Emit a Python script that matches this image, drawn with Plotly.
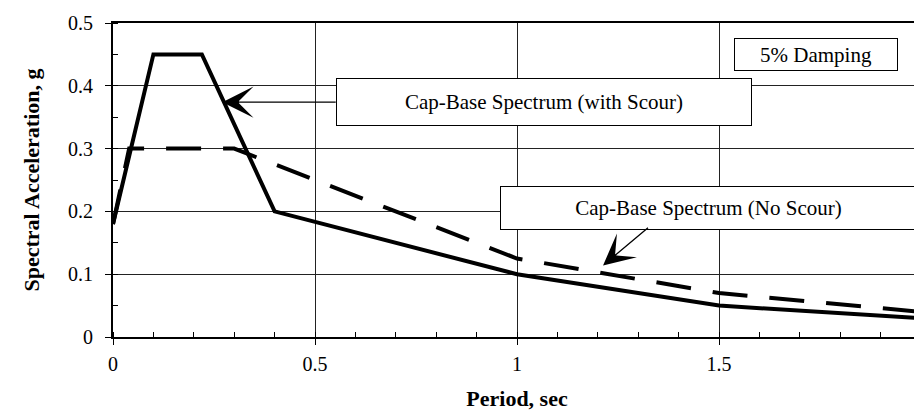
import plotly.graph_objects as go

# response spectra, 5% damping
period_scour = [0, 0.1, 0.22, 0.4, 1.0, 1.5, 2.0]
sa_scour = [0.18, 0.45, 0.45, 0.2, 0.1, 0.05, 0.03]

period_no_scour = [0, 0.04, 0.3, 1.0, 1.5, 2.0]
sa_no_scour = [0.18, 0.3, 0.3, 0.125, 0.07, 0.04]

font_family = "Liberation Serif, Times New Roman, serif"

fig = go.Figure()
fig.add_trace(go.Scatter(
    x=period_scour, y=sa_scour, mode="lines",
    line=dict(color="black", width=4),
    name="Cap-Base Spectrum (with Scour)"
))
fig.add_trace(go.Scatter(
    x=period_no_scour, y=sa_no_scour, mode="lines",
    line=dict(color="black", width=4, dash="35px,22px"),
    name="Cap-Base Spectrum (No Scour)"
))

# Here we build the boxed labels and the arrows separately
box_style = dict(showarrow=False, bgcolor="white", bordercolor="black",
                 borderwidth=1, borderpad=0, font=dict(family=font_family, size=21, color="black"),
                 xref="x", yref="y")
fig.add_annotation(text="5% Damping", x=1.741, y=0.4497, width=162, height=31, **box_style)
fig.add_annotation(text="Cap-Base Spectrum (with Scour)", x=1.067, y=0.374, width=414, height=46, **box_style)
fig.add_annotation(text="Cap-Base Spectrum (No Scour)", x=1.474, y=0.206, width=415, height=42, **box_style)

arrow_style = dict(text="", showarrow=True, arrowhead=3, arrowsize=4, arrowwidth=1.3,
                   arrowcolor="black", xref="x", yref="y", axref="x", ayref="y")
fig.add_annotation(x=0.2706, y=0.374, ax=0.555, ay=0.374, **arrow_style)
fig.add_annotation(x=1.213, y=0.114, ax=1.328, ay=0.176, **arrow_style)

axis_common = dict(
    showline=True, linecolor="black", linewidth=2, mirror=True,
    showgrid=True, gridcolor="#222222", gridwidth=1, zeroline=False,
    ticks="outside", ticklen=6, tickcolor="black", tickwidth=1,
    tickfont=dict(family=font_family, size=20, color="black"),
)

fig.update_xaxes(
    range=[0, 2], dtick=0.5, ticklabelstandoff=2,
    minor=dict(dtick=0.1, ticks="inside", ticklen=5, tickcolor="black", showgrid=False),
    title=dict(text="<b>Period, sec</b>", standoff=17,
               font=dict(family=font_family, size=22, color="black")),
    **axis_common
)
fig.update_yaxes(
    range=[0, 0.5], dtick=0.1, ticklabelstandoff=8,
    minor=dict(dtick=0.05, ticks="inside", ticklen=5, tickcolor="black", showgrid=False),
    title=dict(text="<b>Spectral Acceleration, g</b>", standoff=22,
               font=dict(family=font_family, size=22, color="black")),
    **axis_common
)

fig.update_layout(
    width=922, height=414,
    margin=dict(l=105, r=4, t=14, b=85),
    plot_bgcolor="white", paper_bgcolor="white",
    showlegend=False,
)

fig.write_html("out.html")
